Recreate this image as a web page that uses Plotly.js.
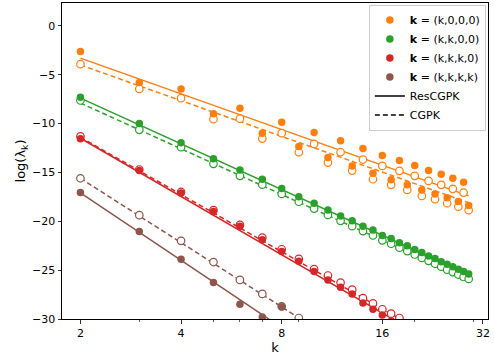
<!DOCTYPE html>
<html>
<head>
<meta charset="utf-8">
<script src="https://cdn.plot.ly/plotly-3.0.1.min.js"></script>
<style>
  html, body { margin: 0; padding: 0; background: #fff; }
  #chart { width: 494px; height: 358px; }
</style>
</head>
<body>
<div id="chart"></div>
<script>
// k values and log eigenvalues
var kOrange = [2,3,4,5,6,7,8,9,10,11,12,13,14,15,16,17,18,19,20,21,22,23,24,25,26,27,28,29];
var orangeRes = [-2.63,-5.8,-6.45,-9.0,-8.43,-10.98,-9.86,-12.35,-10.92,-13.48,-11.77,-14.33,-12.55,-15.08,-13.27,-15.76,-13.78,-16.27,-14.3,-16.79,-14.81,-17.2,-15.18,-17.6,-15.6,-17.98,-16.0,-18.38];
var orangeCg = [-3.92,-6.45,-7.4,-9.55,-9.5,-11.54,-10.98,-12.93,-12.08,-13.99,-12.93,-14.81,-13.68,-15.7,-14.33,-16.27,-14.84,-16.79,-15.35,-17.4,-15.87,-17.74,-16.27,-18.15,-16.68,-18.5,-17.06,-18.86];

var kGreen = kOrange;
var greenRes = [-7.3,-10.0,-11.95,-13.6,-14.75,-15.7,-16.65,-17.5,-18.15,-18.85,-19.45,-19.95,-20.5,-20.9,-21.45,-21.75,-22.2,-22.5,-22.9,-23.2,-23.55,-23.8,-24.15,-24.4,-24.65,-24.9,-25.15,-25.4];
var greenCg = [-7.64,-10.64,-12.42,-14.12,-15.35,-16.25,-17.2,-18.0,-18.7,-19.35,-19.95,-20.5,-21.0,-21.45,-21.95,-22.3,-22.7,-23.05,-23.4,-23.75,-24.05,-24.35,-24.65,-24.95,-25.2,-25.45,-25.7,-25.9];

var kRedRes = [2,3,4,5,6,7,8,9,10,11,12,13,14,15,16,17];
var redRes = [-11.55,-14.8,-17.1,-19.0,-20.5,-21.9,-23.1,-24.1,-25.15,-26.0,-26.75,-27.45,-28.35,-29.0,-29.6,-30.2];
var kRedCg = [2,3,4,5,6,7,8,9,10,11,12,13,14,15,16,17,18];
var redCg = [-11.3,-14.7,-17.0,-18.85,-20.37,-21.67,-22.86,-23.85,-24.9,-25.55,-26.27,-27.0,-27.87,-28.4,-29.0,-29.45,-29.9];

var kBrownRes = [2,3,4,5,6,7,8];
var brownRes = [-17.06,-21.05,-23.88,-26.27,-28.49,-29.8,-28.75];
var kBrownCg = [2,3,4,5,6,7,8,9];
var brownCg = [-15.6,-19.37,-22.0,-24.17,-26.0,-27.43,-28.7,-29.9];

// fitted lines: values at the two ends k = 2 and k = 29
var fitK = [2, 29];
var orangeFitRes = [-3.3, -17.4],  orangeFitCg = [-4.0, -18.1];
var greenFitRes = [-7.4, -25.45],  greenFitCg = [-7.9, -25.95];
var redFitRes = [-11.5, -34.5],    redFitCg = [-11.4, -34.0];
var brownFitRes = [-17.1, -43.7],  brownFitCg = [-15.6, -41.0];

var labels = ['<b>k</b> = (k,0,0,0)', '<b>k</b> = (k,k,0,0)', '<b>k</b> = (k,k,k,0)', '<b>k</b> = (k,k,k,k)'];
var colors = ['#ff7f0e', '#2ca02c', '#d62728', '#8c564b'];

var series = [
  {kr: kOrange, res: orangeRes, kc: kOrange, cg: orangeCg, fr: orangeFitRes, fc: orangeFitCg},
  {kr: kGreen, res: greenRes, kc: kGreen, cg: greenCg, fr: greenFitRes, fc: greenFitCg},
  {kr: kRedRes, res: redRes, kc: kRedCg, cg: redCg, fr: redFitRes, fc: redFitCg},
  {kr: kBrownRes, res: brownRes, kc: kBrownCg, cg: brownCg, fr: brownFitRes, fc: brownFitCg}
];

var data = [];
series.forEach(function(s, i) {
  data.push({x: fitK, y: s.fr, mode: 'lines', showlegend: false, hoverinfo: 'skip',
    line: {color: colors[i], width: 1.5}});
  data.push({x: fitK, y: s.fc, mode: 'lines', showlegend: false, hoverinfo: 'skip',
    line: {color: colors[i], width: 1.5, dash: '5px,3px'}});
});
series.forEach(function(s, i) {
  data.push({x: s.kc, y: s.cg, mode: 'markers', showlegend: false,
    marker: {color: '#fff', size: 7.5, line: {color: colors[i], width: 1.2}}});
  data.push({x: s.kr, y: s.res, mode: 'markers', name: labels[i], legendrank: i + 1,
    marker: {color: colors[i], size: 7.5, line: {width: 0}}});
});
// legend entries for the two methods
data.push({x: [null], y: [null], mode: 'lines', name: 'ResCGPK', legendrank: 5,
  line: {color: '#000', width: 1.5}});
data.push({x: [null], y: [null], mode: 'lines', name: 'CGPK', legendrank: 6,
  line: {color: '#000', width: 1.5, dash: '5px,3px'}});

var layout = {
  width: 494,
  height: 358,
  margin: {l: 62, r: 6, t: 3, b: 39},
  paper_bgcolor: '#fff',
  plot_bgcolor: '#fff',
  font: {family: 'DejaVu Sans, sans-serif', size: 11, color: '#000'},
  xaxis: {
    type: 'log',
    range: [0.2459, 1.5202],
    tickmode: 'array',
    tickvals: [2, 4, 8, 16, 32],
    ticktext: ['2', '4', '8', '16', '32'],
    ticks: 'outside', ticklen: 3.5, tickwidth: 0.8, tickcolor: '#000',
    minor: {tickmode: 'array', tickvals: [3, 5, 6, 7, 9, 20, 30], ticks: 'outside', ticklen: 2, tickwidth: 0.6, tickcolor: '#000'},
    showline: true, linecolor: '#000', linewidth: 1, mirror: true,
    showgrid: false, zeroline: false,
    title: {text: 'k', font: {size: 13}, standoff: 4}
  },
  yaxis: {
    range: [-30, 2.34],
    tickmode: 'array',
    tickvals: [-30, -25, -20, -15, -10, -5, 0],
    ticks: 'outside', ticklen: 3.5, tickwidth: 0.8, tickcolor: '#000',
    showline: true, linecolor: '#000', linewidth: 1, mirror: true,
    showgrid: false, zeroline: false, automargin: true,
    title: {text: 'log(λ<sub>k</sub>)', font: {size: 13}, standoff: 3}
  },
  legend: {
    x: 0.995, xanchor: 'right', y: 0.995, yanchor: 'top',
    bgcolor: 'rgba(255,255,255,0.85)', bordercolor: '#ccc', borderwidth: 1,
    font: {size: 11}, itemwidth: 30, tracegroupgap: 0
  }
};

Plotly.newPlot('chart', data, layout, {displayModeBar: false, staticPlot: true});
</script>
</body>
</html>
